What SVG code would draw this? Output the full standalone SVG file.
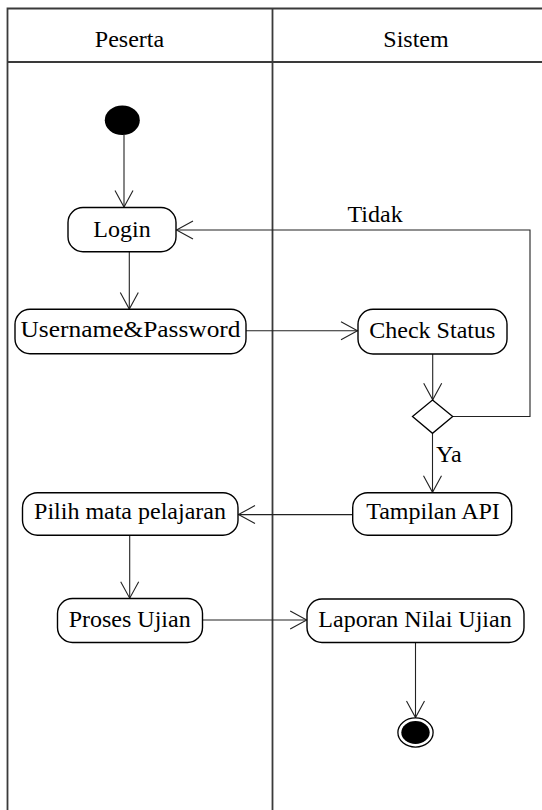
<svg xmlns="http://www.w3.org/2000/svg" width="542" height="810" viewBox="0 0 542 810">
  <style>
    .lane { fill: none; stroke: #3a3a3a; stroke-width: 1.8; }
    .act rect { fill: #fff; stroke: #000; stroke-width: 1.4; }
    .lbl { font-family: "Liberation Serif", "Times New Roman", serif; font-size: 24px; fill: #000; }
    .mid { text-anchor: middle; }
    .flow { fill: none; stroke: #222; stroke-width: 1.1; marker-end: url(#open); }
  </style>
  <defs>
    <marker id="open" viewBox="-18 -11 20 22" refX="0" refY="0" markerWidth="20" markerHeight="22" markerUnits="userSpaceOnUse" orient="auto">
      <path d="M-16.5,-9 L0,0 L-16.5,9" fill="none" stroke="#222" stroke-width="1.1"/>
    </marker>
  </defs>

  <rect width="542" height="810" fill="#fff"/>

  <!-- swimlanes -->
  <g id="swimlanes">
    <path class="lane" d="M7.5,810 V8.5 H560 M272.5,8.5 V810 M7.5,62 H560"/>
    <text class="lbl mid" x="129.5" y="46.5">Peserta</text>
    <text class="lbl mid" x="416" y="46.5">Sistem</text>
  </g>

  <!-- connectors -->
  <g id="connectors">
    <path class="flow" d="M124,135 V207"/>
    <path class="flow" d="M129.3,251.7 V309"/>
    <path class="flow" d="M246,330.7 H357.5"/>
    <path class="flow" d="M432.7,354 V399.8"/>
    <path class="flow" d="M452.7,416.5 H530 V230 H176.5"/>
    <text class="lbl" x="347.5" y="222.3">Tidak</text>
    <path class="flow" d="M432.5,433.3 V492.3"/>
    <text class="lbl" x="436" y="461.7">Ya</text>
    <path class="flow" d="M352.7,514.6 H238.5"/>
    <path class="flow" d="M129.7,535.2 V598.2"/>
    <path class="flow" d="M202.5,620 H306.7"/>
    <path class="flow" d="M415.5,642.5 V717.5"/>
  </g>

  <!-- nodes -->
  <g id="start">
    <ellipse cx="122.3" cy="120.3" rx="17.5" ry="14.8" fill="#000"/>
  </g>
  <g id="login" class="act">
    <rect x="68" y="207.5" width="108" height="44.2" rx="15"/>
    <text class="lbl mid" x="122" y="236.7">Login</text>
  </g>
  <g id="username-password" class="act">
    <rect x="15" y="309.3" width="231" height="44.4" rx="15"/>
    <text class="lbl mid" x="130.5" y="336.7" textLength="220" lengthAdjust="spacingAndGlyphs">Username&amp;Password</text>
  </g>
  <g id="check-status" class="act">
    <rect x="358" y="309.3" width="149" height="44.7" rx="15"/>
    <text class="lbl mid" x="432.3" y="337.7">Check Status</text>
  </g>
  <g id="decision">
    <polygon points="432.5,400 452.7,416.5 432.5,433.3 412.5,416.5" fill="#fff" stroke="#000" stroke-width="1.3"/>
  </g>
  <g id="tampilan-api" class="act">
    <rect x="352.7" y="492.7" width="159" height="42.5" rx="15"/>
    <text class="lbl mid" x="433" y="519.3">Tampilan API</text>
  </g>
  <g id="pilih-mata-pelajaran" class="act">
    <rect x="22.5" y="492.7" width="215.5" height="42.5" rx="15"/>
    <text class="lbl mid" x="130" y="519.3">Pilih mata pelajaran</text>
  </g>
  <g id="proses-ujian" class="act">
    <rect x="57.5" y="598.5" width="145" height="44" rx="15"/>
    <text class="lbl mid" x="129.7" y="626.7">Proses Ujian</text>
  </g>
  <g id="laporan-nilai-ujian" class="act">
    <rect x="307" y="599" width="217" height="43.5" rx="15"/>
    <text class="lbl mid" x="415" y="626.7">Laporan Nilai Ujian</text>
  </g>
  <g id="end">
    <ellipse cx="415.5" cy="732.5" rx="17.6" ry="14.6" fill="#fff" stroke="#000" stroke-width="1.3"/>
    <ellipse cx="415.5" cy="732.5" rx="14.2" ry="11.4" fill="#000"/>
  </g>
</svg>
